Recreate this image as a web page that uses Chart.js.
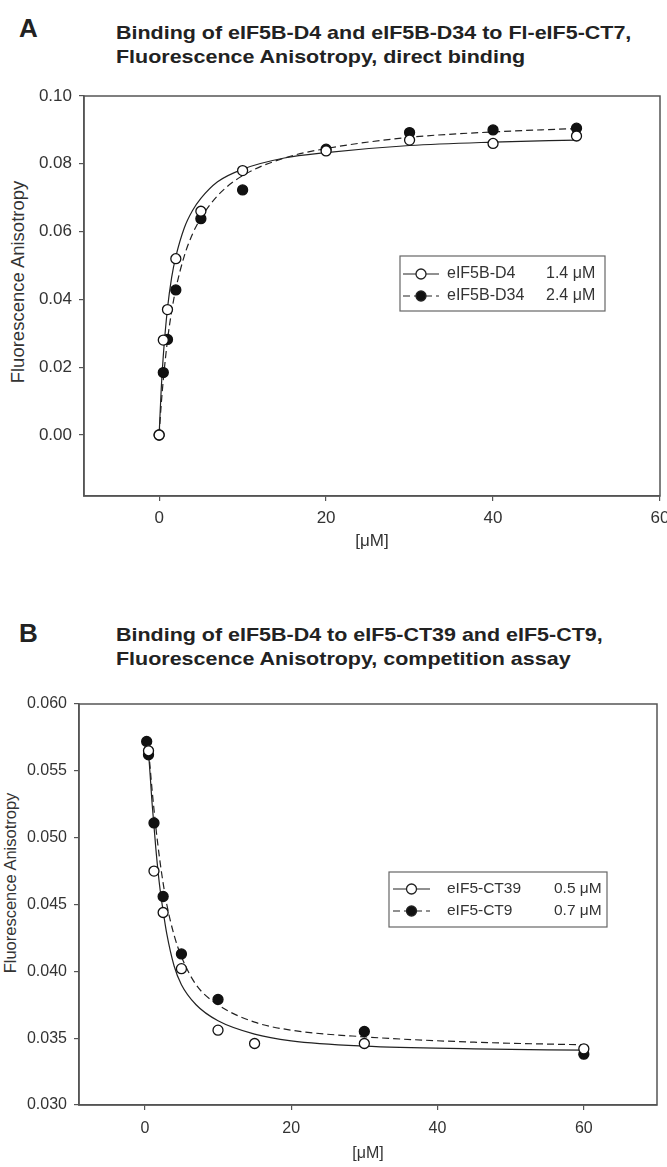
<!DOCTYPE html>
<html>
<head>
<meta charset="utf-8">
<script src="https://cdn.jsdelivr.net/npm/chart.js@4.4.1/dist/chart.umd.min.js"></script>
<style>
  body { margin: 0; background: #fff; width: 667px; height: 1167px; position: relative; overflow: hidden;
         font-family: "Liberation Sans", Arial, sans-serif; color: #222; }
  .letter { position: absolute; font-weight: bold; font-size: 26px; line-height: 26px; }
  .title { position: absolute; left: 116px; font-weight: bold; font-size: 19px; line-height: 24px; white-space: nowrap;
           transform: scaleX(1.13); transform-origin: 0 0; }
  .ytitle { position: absolute; white-space: nowrap; color: #333; transform: translate(-50%, -50%) rotate(-90deg); }
  canvas { position: absolute; left: 0; }
</style>
</head>
<body>
<div class="letter" style="left:19px;top:15px">A</div>
<div class="title" style="top:21px">Binding of eIF5B-D4 and eIF5B-D34 to Fl-eIF5-CT7,<br>Fluorescence Anisotropy, direct binding</div>
<div class="ytitle" style="left:18px;top:282px;font-size:18.5px">Fluorescence Anisotropy</div>
<canvas id="chartA" width="667" height="580" style="top:0px"></canvas>

<div class="letter" style="left:19px;top:620px">B</div>
<div class="title" style="top:623px">Binding of eIF5B-D4 to eIF5-CT39 and eIF5-CT9,<br>Fluorescence Anisotropy, competition assay</div>
<div class="ytitle" style="left:10px;top:883px;font-size:16.5px">Fluorescence Anisotropy</div>
<canvas id="chartB" width="667" height="587" style="top:580px"></canvas>

<script>
// Panel A - direct binding
var concA = [0, 0.5, 1, 2, 5, 10, 20, 30, 40, 50];
var d4Values = [0, 0.028, 0.037, 0.052, 0.066, 0.078, 0.0838, 0.087, 0.086, 0.0882];
var d34Values = [0, 0.0184, 0.0282, 0.0428, 0.0638, 0.0723, 0.0843, 0.0892, 0.0900, 0.0905];
var fitConcA = [0, 0.25, 0.5, 1, 1.5, 2, 3, 4, 5, 7, 10, 15, 20, 30, 40, 50];
var d4Fit = [0, 0.0135, 0.0234, 0.0373, 0.0465, 0.0526, 0.061, 0.0662, 0.0698, 0.0747, 0.0784, 0.0817, 0.0833, 0.0854, 0.0864, 0.0870];
var d34Fit = [0, 0.009, 0.0163, 0.0279, 0.0365, 0.0431, 0.0527, 0.0593, 0.064, 0.0706, 0.0765, 0.0817, 0.0845, 0.0878, 0.0894, 0.0904];
var legendA = ["eIF5B-D4", "eIF5B-D34"];
var kdA = ["1.4 \u03bcM", "2.4 \u03bcM"];

// Panel B - competition assay
var ct39Conc = [0.5, 1.25, 2.5, 5, 10, 15, 30, 60];
var ct39Values = [0.0565, 0.0475, 0.0444, 0.0402, 0.0356, 0.0346, 0.0346, 0.0342];
var ct9Conc = [0.25, 0.5, 1.25, 2.5, 5, 10, 30, 60];
var ct9Values = [0.0572, 0.0562, 0.0511, 0.0456, 0.0413, 0.0379, 0.0355, 0.0338];
var fitConcB = [0.25, 0.5, 1, 1.5, 2, 2.5, 3, 4, 5, 7, 10, 15, 20, 30, 45, 60];
var ct39Fit = [0.0572, 0.0563, 0.0525, 0.0492, 0.0465, 0.0445, 0.0428, 0.0404, 0.0390, 0.0375, 0.0363, 0.0353, 0.0348, 0.0344, 0.0342, 0.0341];
var ct9Fit = [0.0573, 0.0565, 0.0535, 0.0508, 0.0485, 0.0466, 0.0450, 0.0427, 0.0411, 0.0390, 0.0375, 0.0362, 0.0356, 0.0351, 0.0347, 0.0345];
var legendB = ["eIF5-CT39", "eIF5-CT9"];
var kdB = ["0.5 \u03bcM", "0.7 \u03bcM"];

var FONT = "'Liberation Sans', Arial, sans-serif";
var DASH = [7, 4];

function pairs(xs, ys) {
  return xs.map(function (x, i) { return { x: x, y: ys[i] }; });
}

// draws the box around the plot area (SigmaPlot style frame)
var framePlugin = {
  id: "frame",
  beforeDatasetsDraw: function (chart) {
    var a = chart.chartArea, ctx = chart.ctx;
    ctx.save();
    ctx.strokeStyle = "#555";
    ctx.lineWidth = 1.5;
    ctx.strokeRect(a.left, a.top, a.right - a.left, a.bottom - a.top);
    ctx.restore();
  }
};

// legend box with line sample, marker, name and Kd
var boxLegend = {
  id: "boxLegend",
  afterDraw: function (chart, args, opts) {
    var ctx = chart.ctx, a = chart.chartArea;
    var x = a.left + opts.left, y = a.top + opts.top;
    ctx.save();
    ctx.fillStyle = "#fff";
    ctx.fillRect(x, y, opts.width, opts.height);
    ctx.strokeStyle = "#666";
    ctx.lineWidth = 1.2;
    ctx.strokeRect(x, y, opts.width, opts.height);
    ctx.font = opts.fontSize + "px " + FONT;
    ctx.textBaseline = "middle";
    opts.labels.forEach(function (label, i) {
      var ry = y + opts.rowTop + i * 22;
      var dashed = i === 1;
      ctx.strokeStyle = "#222";
      ctx.lineWidth = 1.2;
      ctx.setLineDash(dashed ? DASH : []);
      ctx.beginPath();
      ctx.moveTo(x + opts.lineFrom, ry);
      ctx.lineTo(x + opts.lineTo, ry);
      ctx.stroke();
      ctx.setLineDash([]);
      var mx = x + (opts.lineFrom + opts.lineTo) / 2;
      ctx.beginPath();
      ctx.arc(mx, ry, 5, 0, Math.PI * 2);
      ctx.fillStyle = dashed ? "#111" : "#fff";
      ctx.fill();
      ctx.lineWidth = 1.3;
      ctx.stroke();
      ctx.fillStyle = "#333";
      ctx.fillText(label, x + opts.labelX, ry);
      ctx.fillText(opts.kd[i], x + opts.kdX, ry);
    });
    ctx.restore();
  }
};

function pointSet(data, filled) {
  return {
    data: data,
    showLine: false,
    pointRadius: 5,
    pointHoverRadius: 5,
    pointBorderWidth: 1.3,
    pointBorderColor: "#111",
    pointBackgroundColor: filled ? "#111" : "#fff"
  };
}

function fitSet(data, dashed) {
  return {
    data: data,
    showLine: true,
    pointRadius: 0,
    borderColor: "#222",
    borderWidth: 1.2,
    borderDash: dashed ? DASH : [],
    cubicInterpolationMode: "monotone",
    fill: false
  };
}

function makeChart(id, s) {
  return new Chart(document.getElementById(id), {
    type: "scatter",
    data: {
      datasets: [
        pointSet(pairs(s.x1, s.y1), false),
        pointSet(pairs(s.x2, s.y2), true),
        fitSet(pairs(s.fitX, s.fit1), false),
        fitSet(pairs(s.fitX, s.fit2), true)
      ]
    },
    plugins: [framePlugin, boxLegend],
    options: {
      responsive: false,
      animation: false,
      devicePixelRatio: 1,
      layout: { padding: s.padding },
      plugins: {
        legend: { display: false },
        tooltip: { enabled: false },
        boxLegend: s.legend
      },
      scales: {
        x: {
          type: "linear",
          min: s.xMin,
          max: s.xMax,
          ticks: {
            stepSize: 20,
            includeBounds: false,
            padding: s.xTickPad,
            color: "#333",
            font: { family: FONT, size: s.tickSize }
          },
          grid: { drawOnChartArea: false, tickLength: 5, color: "#555", lineWidth: 1.2 },
          border: { color: "#555", width: 1.5 },
          title: { display: true, text: "[\u03bcM]", color: "#333", padding: 0, font: { family: FONT, size: s.tickSize } },
          afterFit: function (scale) {
            scale.height = s.xAxisHeight;
            scale.paddingLeft = 0;
            scale.paddingRight = 0;
          }
        },
        y: {
          min: s.yMin,
          max: s.yMax,
          ticks: {
            stepSize: s.yStep,
            includeBounds: false,
            padding: 7,
            color: "#333",
            font: { family: FONT, size: s.tickSize },
            callback: function (v) { return v.toFixed(s.yDigits); }
          },
          grid: { drawOnChartArea: false, tickLength: 5, color: "#555", lineWidth: 1.2 },
          border: { color: "#555", width: 1.5 },
          afterFit: function (scale) {
            scale.width = s.yAxisWidth;
            scale.paddingTop = 0;
            scale.paddingBottom = 0;
          }
        }
      }
    }
  });
}

makeChart("chartA", {
  x1: concA, y1: d4Values, x2: concA, y2: d34Values,
  fitX: fitConcA, fit1: d4Fit, fit2: d34Fit,
  xMin: -9, xMax: 60, yMin: -0.018, yMax: 0.1, yStep: 0.02, yDigits: 2,
  tickSize: 17, xTickPad: 7,
  yAxisWidth: 84, xAxisHeight: 56,
  padding: { top: 96, right: 7, bottom: 28, left: 0 },
  legend: { left: 316, top: 160, width: 205, height: 55, rowTop: 18, lineFrom: 3, lineTo: 39,
            labelX: 47, kdX: 146, fontSize: 16, labels: legendA, kd: kdA }
});

makeChart("chartB", {
  x1: ct39Conc, y1: ct39Values, x2: ct9Conc, y2: ct9Values,
  fitX: fitConcB, fit1: ct39Fit, fit2: ct9Fit,
  xMin: -9, xMax: 70, yMin: 0.03, yMax: 0.06, yStep: 0.005, yDigits: 3,
  tickSize: 16, xTickPad: 9,
  yAxisWidth: 79, xAxisHeight: 58,
  padding: { top: 124, right: 10, bottom: 4, left: 0 },
  legend: { left: 310, top: 168, width: 218, height: 55, rowTop: 17, lineFrom: 4, lineTo: 41,
            labelX: 58, kdX: 165, fontSize: 15.5, labels: legendB, kd: kdB }
});
</script>
</body>
</html>
